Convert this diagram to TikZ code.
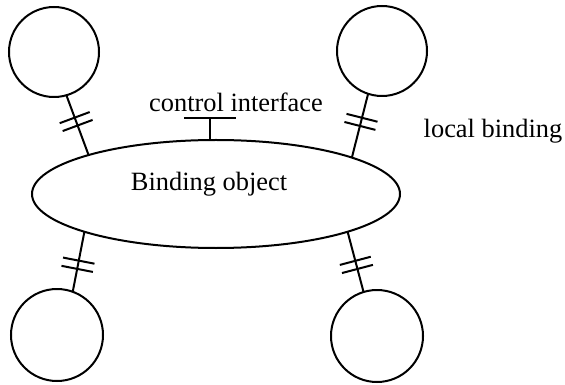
\documentclass[tikz,border=0pt]{standalone}
\usepackage{fontspec}
\setmainfont{Liberation Serif}
\usetikzlibrary{shapes.geometric,decorations.markings}
\begin{document}
\begin{tikzpicture}[x=0.5pt,y=-0.5pt, line width=1pt,
  every node/.style={font=\fontsize{13.2}{16}\selectfont},
  obj/.style={draw, circle, minimum size=#1, inner sep=0pt, outer sep=0pt},
  bobj/.style={draw, ellipse, minimum width=184pt, minimum height=54pt, inner sep=0pt, outer sep=0pt},
  lbl/.style={anchor=base, inner sep=0pt},
  bindline/.style={postaction={decorate}, decoration={markings,
     mark=at position #1 with {\draw[line width=1pt] (-2.1pt,-8pt) -- (-2.1pt,8pt);
                               \draw[line width=1pt] (2.1pt,-8pt) -- (2.1pt,8pt);}}}]
\useasboundingbox (0,0) rectangle (565,384);
\node[bobj] (ell) at (216,194) {};
\node[lbl] (btxt) at (209,191) {Binding object};
\node[obj=45pt] (c1) at (54,52) {};
\node[obj=45pt] (c2) at (382,51) {};
\node[obj=46pt] (c3) at (57,335) {};
\node[obj=46pt] (c4) at (377,336) {};
\draw[bindline=0.44] (c1.-74.2) -- (ell.163.8);
\draw[bindline=0.44] (c2.-108) -- (ell.15.4);
\draw[bindline=0.45] (c3.70.8) -- (ell.196.6);
\draw[bindline=0.45] (c4.107.7) -- (ell.-16.4);
\node[lbl] (ctl) at (236,112) {control interface};
\node[lbl] (loc) at (493,138) {local binding};
\coordinate (tl) at (184,118);
\coordinate (tr) at (236,118);
\coordinate (tm) at (210,118);
\draw (tl) -- (tr);
\draw (tm) -- (tm |- ell.north);
\end{tikzpicture}
\end{document}
